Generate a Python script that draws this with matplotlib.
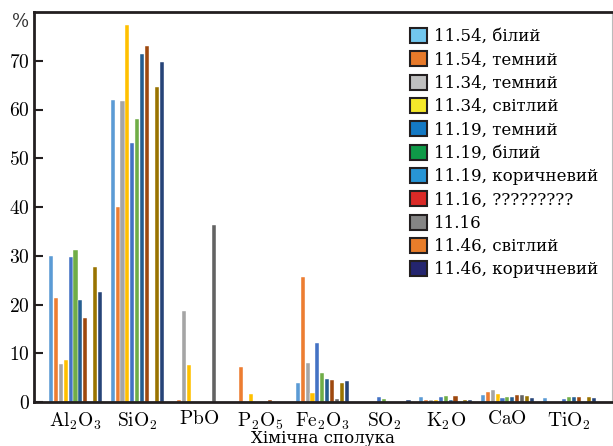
import numpy as np
import matplotlib
matplotlib.use('Agg')
import matplotlib.pyplot as plt
from matplotlib.patches import Patch

plt.rcParams['mathtext.fontset'] = 'cm'
plt.rcParams['font.family'] = ['DejaVu Serif']

compounds = [r'$\mathrm{Al_2O_3}$', r'$\mathrm{SiO_2}$', r'$\mathrm{PbO}$', r'$\mathrm{P_2O_5}$',
             r'$\mathrm{Fe_2O_3}$', r'$\mathrm{SO_2}$', r'$\mathrm{K_2O}$', r'$\mathrm{CaO}$',
             r'$\mathrm{TiO_2}$']

labels = ['11.54, білий', '11.54, темний', '11.34, темний', '11.34, світлий',
          '11.19, темний', '11.19, білий', '11.19, коричневий', '11.16, ?????????',
          '11.16', '11.46, світлий', '11.46, коричневий']

s_1154_bil = [29.9, 61.9, 0, 0, 4.0, 0, 1.0, 1.5, 0.8]
s_1154_tem = [21.4, 40.0, 0.4, 7.1, 25.7, 0, 0.5, 2.1, 0]
s_1134_tem = [7.7, 61.8, 18.6, 0, 8.1, 0, 0.5, 2.5, 0]
s_1134_svi = [8.7, 77.4, 7.5, 1.6, 1.8, 0, 0.4, 1.6, 0]
s_1119_tem = [29.8, 53.1, 0, 0, 12.2, 1.0, 1.0, 0.8, 0.6]
s_1119_bil = [31.2, 58.1, 0, 0, 6.0, 0.7, 1.2, 1.0, 1.0]
s_1119_kor = [20.9, 71.3, 0, 0, 4.8, 0, 0.4, 1.0, 1.1]
s_1116_q = [17.2, 73.0, 0, 0.4, 4.5, 0, 1.2, 1.5, 1.1]
s_1116 = [0, 0, 36.3, 0, 0.7, 0, 0, 1.5, 0]
s_1146_svi = [27.7, 64.7, 0, 0, 3.8, 0, 0.5, 1.2, 1.1]
s_1146_kor = [22.5, 69.7, 0, 0, 4.3, 0.4, 0.4, 0.8, 0.8]

series = [s_1154_bil, s_1154_tem, s_1134_tem, s_1134_svi, s_1119_tem, s_1119_bil,
          s_1119_kor, s_1116_q, s_1116, s_1146_svi, s_1146_kor]

# bars use the office palette, the legend was drawn with other colours
bar_colors = ['#5B9BD5', '#ED7D31', '#A5A5A5', '#FFC000', '#4472C4', '#70AD47',
              '#255E91', '#9E480E', '#636363', '#997300', '#264478']
legend_colors = ['#72C7EE', '#E87A2A', '#C0C0C0', '#F5E82A', '#1479C4', '#0F9A48',
                 '#2895D5', '#DA2A27', '#858585', '#E87D2A', '#24256F']

fig = plt.figure(figsize=(6.13, 4.46), dpi=100)
ax = fig.add_axes([34 / 613, 44 / 446, 578 / 613, 390 / 446])

x = np.arange(len(compounds))
step = 0.0794
for i, vals in enumerate(series):
    ax.bar(x + (i - 5) * step, vals, width=0.066, color=bar_colors[i],
           edgecolor='white', linewidth=0.3)

ax.set_xlim(-0.673, 8.695)
ax.set_ylim(0, 80)
ax.set_yticks(range(0, 80, 10))
ax.set_yticklabels(['$%d$' % v for v in range(0, 80, 10)], fontsize=14)
ax.set_xticks(x)
ax.set_xticklabels(compounds, fontsize=14)
ax.tick_params(axis='y', direction='in', length=6.5, width=1.5, color='#231F20', pad=3)
ax.tick_params(axis='x', length=0, pad=6)
ax.text(-0.008, 78, '%', transform=ax.get_yaxis_transform(), ha='right', va='center',
        fontsize=13, family='DejaVu Serif', color='#333333')
ax.set_xlabel('Хімічна сполука', fontsize=12, labelpad=-1)

for side in ['left', 'bottom', 'top']:
    ax.spines[side].set_linewidth(2)
    ax.spines[side].set_color('#231F20')
ax.spines['right'].set_linewidth(0.8)
ax.spines['right'].set_color('#BBBBBB')

handles = [Patch(facecolor=c, edgecolor='#231F20', linewidth=1.5) for c in legend_colors]
ax.legend(handles, labels, loc='upper left', bbox_to_anchor=(410 / 613, 1 - 28 / 446),
          bbox_transform=fig.transFigure, frameon=False, fontsize=12,
          handlelength=1.0, handleheight=1.0, handletextpad=0.45, labelspacing=0.37,
          borderpad=0, borderaxespad=0)

fig.savefig('out.png', dpi=100)
